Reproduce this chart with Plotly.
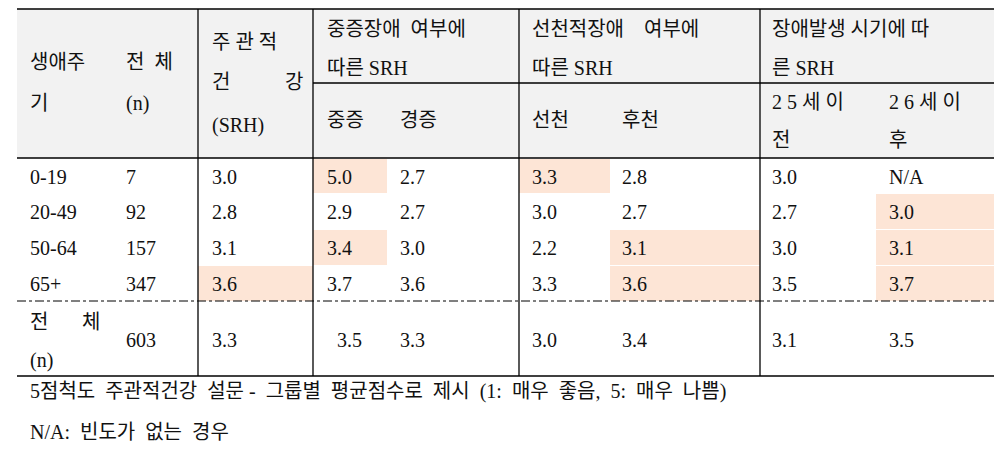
import plotly.graph_objects as go

groups = ["0-19", "20-49", "50-64", "65+"]
n_vals = [7, 92, 157, 347]
srh = ["3.0", "2.8", "3.1", "3.6"]
severe = ["5.0", "2.9", "3.4", "3.7"]
mild = ["2.7", "2.7", "3.0", "3.6"]
congenital = ["3.3", "3.0", "2.2", "3.3"]
acquired = ["2.8", "2.7", "3.1", "3.6"]
before25 = ["3.0", "2.7", "3.0", "3.5"]
after26 = ["N/A", "3.0", "3.1", "3.7"]
total_row = ["603", "3.3", "3.5", "3.3", "3.0", "3.4", "3.1", "3.5"]
# highlighted cells: (row, column index among value columns 0..8)
highlights = [(0, 3), (2, 3), (3, 2), (0, 5), (2, 6), (3, 6), (1, 8), (2, 8), (3, 8)]

FONT = "Liberation Serif, Noto Sans CJK KR"
GRAY = "#f2f2f2"
PEACH = "#fde5d6"

# column edges (pixels)
col_edges = [17, 113, 198, 313, 387, 519, 610, 760, 876, 994]
text_x = [28, 124, 210, 325, 398, 530, 620, 770, 887]
row_edges = [158, 193, 229, 265, 301]
top, mid, bottom = 9, 83, 376

shapes = []
ann = []


def text(x, y, s):
    ann.append(dict(x=x, y=y, text=s, showarrow=False, xanchor="left",
                    yanchor="middle", font=dict(family=FONT, size=20, color="#111")))


# header background
shapes.append(dict(type="rect", x0=col_edges[0], x1=col_edges[-1], y0=top, y1=row_edges[0],
                   fillcolor=GRAY, line_width=0, layer="below"))
for r, c in highlights:
    shapes.append(dict(type="rect", x0=col_edges[c], x1=col_edges[c + 1],
                       y0=row_edges[r] + 1, y1=row_edges[r + 1], fillcolor=PEACH, line_width=0, layer="below"))

line = dict(color="black", width=1.3)
for y in [top, row_edges[0], bottom]:
    shapes.append(dict(type="line", x0=col_edges[0], x1=col_edges[-1], y0=y, y1=y, line=line))
shapes.append(dict(type="line", x0=col_edges[3], x1=col_edges[-1], y0=mid, y1=mid, line=line))
shapes.append(dict(type="line", x0=col_edges[0], x1=col_edges[-1], y0=row_edges[-1], y1=row_edges[-1],
                   line=dict(color="black", width=1, dash="dashdot")))
for x in [col_edges[2], col_edges[3], col_edges[5], col_edges[7]]:
    shapes.append(dict(type="line", x0=x, x1=x, y0=top, y1=bottom, line=line))

# header text
text(text_x[0], 62, "생애주"); text(text_x[0], 103, "기")
text(text_x[1], 62, "전  체"); text(text_x[1], 103, "(n)")
text(text_x[2], 42, "주 관 적"); text(text_x[2], 82, "건"); text(283, 82, "강"); text(text_x[2], 125, "(SRH)")
text(text_x[3], 29, "중증장애  여부에"); text(text_x[3], 68, "따른 SRH")
text(text_x[5], 29, "선천적장애    여부에"); text(text_x[5], 68, "따른 SRH")
text(text_x[7], 29, "장애발생 시기에 따"); text(text_x[7], 68, "른 SRH")
text(text_x[3], 120, "중증"); text(text_x[4], 120, "경증")
text(text_x[5], 120, "선천"); text(text_x[6], 120, "후천")
text(text_x[7], 102, "2 5 세 이"); text(text_x[8], 102, "2 6 세 이")
text(text_x[7], 140, "전"); text(text_x[8], 140, "후")

# body
cols = [groups, [str(v) for v in n_vals], srh, severe, mild, congenital, acquired, before25, after26]
for r in range(len(groups)):
    yc = (row_edges[r] + row_edges[r + 1]) / 2 + 1
    for c, col in enumerate(cols):
        text(text_x[c], yc, col[r])

text(text_x[0], 322, "전"); text(80, 322, "체"); text(text_x[0], 360, "(n)")
for i, v in enumerate(total_row):
    x = text_x[i + 1] + (10 if i == 2 else 0)
    text(x, 340, v)

text(text_x[0], 391, "5점척도  주관적건강  설문 -  그룹별  평균점수로  제시  (1:  매우  좋음,  5:  매우  나쁨)")
text(text_x[0], 432, "N/A:  빈도가  없는  경우")

fig = go.Figure()
fig.update_layout(
    width=1006, height=465, margin=dict(l=0, r=0, t=0, b=0),
    paper_bgcolor="white", plot_bgcolor="white",
    xaxis=dict(range=[8, 1014], visible=False, fixedrange=True),
    yaxis=dict(range=[473, 8], visible=False, fixedrange=True),
    shapes=shapes, annotations=ann, showlegend=False,
)
fig.write_html("out.html")
